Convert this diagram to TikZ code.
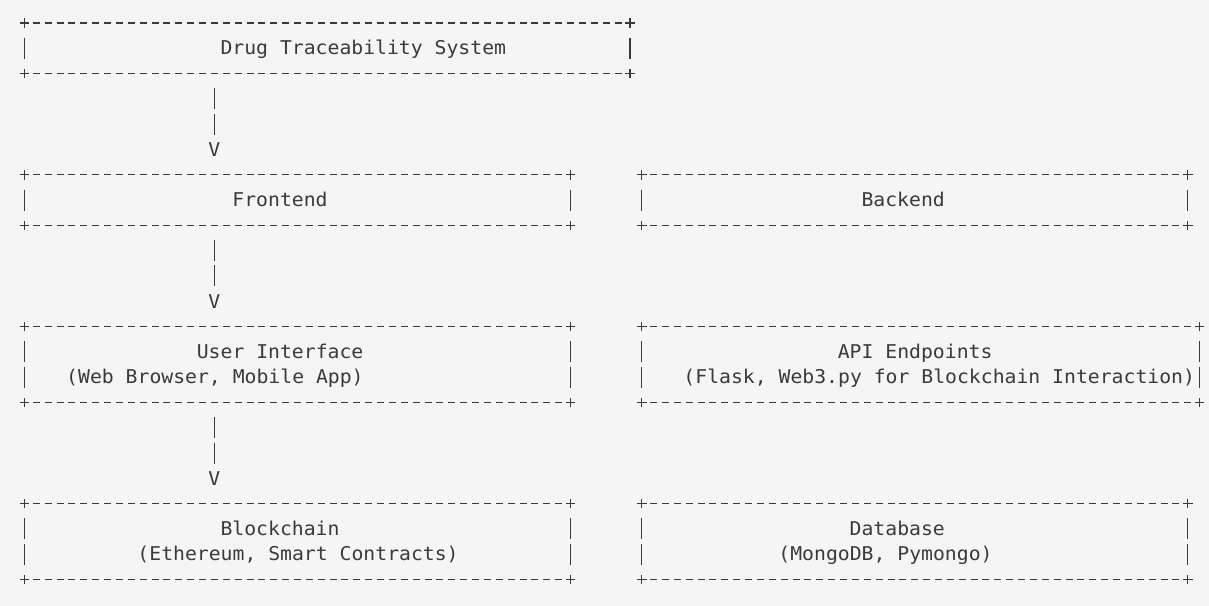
\documentclass[tikz,border=0pt]{standalone}
\usepackage{fontspec}
\usepackage{xcolor}
\usepackage{tikz}
\usetikzlibrary{fit}
\newfontfamily\asciifont[FakeStretch=1.04]{DejaVu Sans Mono}
\definecolor{paper}{RGB}{245,245,245}
\definecolor{ink}{RGB}{58,58,58}

\begin{document}
\begin{tikzpicture}[x=11.87pt,y=-25.3pt,
  asciibox/.style={rectangle,inner sep=0pt,outer sep=0pt,draw=none},
  txt/.style={anchor=base west,inner sep=0pt,yshift=-6.7pt,text=ink,
    font=\asciifont\fontsize{19pt}{25pt}\selectfont},
  vhead/.style={inner sep=0pt,text=ink,
    font=\asciifont\fontsize{19pt}{25pt}\selectfont},
  hline/.style={draw=ink,line width=1.3pt,dash pattern=on 7pt off 4.87pt,dash phase=3.5pt},
  vline/.style={draw=ink,line width=1.3pt,dash pattern=on 21pt off 4.3pt,
    shorten <=14.8pt,shorten >=14.8pt},
  arrowbar/.style={draw=ink,line width=1.3pt,dash pattern=on 21pt off 4.3pt,
    shorten <=14.8pt,shorten >=40.1pt},
  cross/.style={draw=ink,line width=1.3pt}]
  \path[fill=paper,use as bounding box] (-2.064,-0.909) rectangle (99.79,23.043);

  \node[asciibox,fit={(0,0) (51,2)}] (sys) {};
  \node[asciibox,fit={(0,6) (46,8)}] (fe) {};
  \node[asciibox,fit={(52,6) (98,8)}] (be) {};
  \node[asciibox,fit={(0,12) (46,15)}] (ui) {};
  \node[asciibox,fit={(52,12) (99,15)}] (api) {};
  \node[asciibox,fit={(0,19) (46,22)}] (bc) {};
  \node[asciibox,fit={(52,19) (98,22)}] (db) {};

  \foreach \b in {sys,fe,be,ui,api,bc,db}{
    \draw[hline] (\b.north west) -- (\b.north east);
    \draw[hline] (\b.south west) -- (\b.south east);
    \draw[vline] (\b.north west) -- (\b.south west);
    \draw[vline] (\b.north east) -- (\b.south east);
    \foreach \corner in {north west,north east,south west,south east}
      \draw[cross] (\b.\corner) +(-4.8pt,0) -- +(4.8pt,0) +(0,-4.8pt) -- +(0,4.8pt);
  }

  \node[txt] (systxt) at (16.5,1) {Drug Traceability System};
  \node[txt] (fetxt) at (17.5,7) {Frontend};
  \node[txt] (betxt) at (70.5,7) {Backend};
  \node[txt] (uitxt) at (14.5,13) {User Interface};
  \node[txt] (uisub) at (3.5,14) {(Web Browser, Mobile App)};
  \node[txt] (apitxt) at (68.5,13) {API Endpoints};
  \node[txt] (apisub) at (55.5,14) {(Flask, Web3.py for Blockchain Interaction)};
  \node[txt] (bctxt) at (16.5,20) {Blockchain};
  \node[txt] (bcsub) at (9.5,21) {(Ethereum, Smart Contracts)};
  \node[txt] (dbtxt) at (69.5,20) {Database};
  \node[txt] (dbsub) at (63.5,21) {(MongoDB, Pymongo)};

  \draw[arrowbar] ([xshift=189.9pt]sys.south west) -- ([xshift=189.9pt]fe.north west)
    node[pos=.75,vhead] (v1) {V};
  \draw[arrowbar] ([xshift=189.9pt]fe.south west) -- ([xshift=189.9pt]ui.north west)
    node[pos=.75,vhead] (v2) {V};
  \draw[arrowbar] ([xshift=189.9pt]ui.south west) -- ([xshift=189.9pt]bc.north west)
    node[pos=.75,vhead] (v3) {V};
\end{tikzpicture}
\end{document}
